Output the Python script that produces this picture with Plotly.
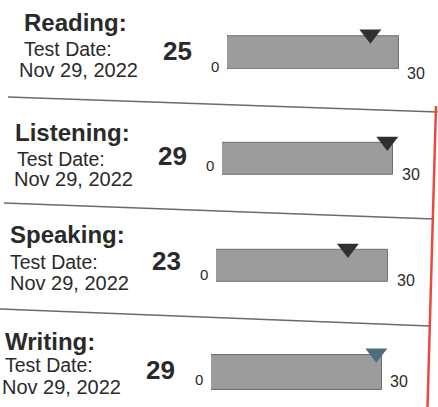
import plotly.graph_objects as go

# ---- data ----
sections = ["Reading:", "Listening:", "Speaking:", "Writing:"]
scores = [25, 29, 23, 29]
test_dates = ["Nov 29, 2022", "Nov 29, 2022", "Nov 29, 2022", "Nov 29, 2022"]
scale_min = 0
scale_max = 30
tick_labels = ["0", "30"]

# ---- layout constants (pixels) ----
W, H = 438, 407
FONT = "Liberation Sans, Arial, sans-serif"
TXT = "#2a2a2a"

# per-row bar box: x0, x1, ytop, ybottom
bar_box = [(227, 399, 36, 69), (222, 393, 143, 175), (216, 388, 250, 282), (211, 382, 355, 390)]
EXTRA = 0.6  # extra y range above the bar (in bar-height units) to hold the marker
MARK_Y = 0.55
# per-row text anchors
title_pos = [(22, 24), (13, 133), (8, 235), (3, 342)]
testdate_pos = [(22, 50), (15, 160), (8, 263), (3, 366)]
date_pos = [(17, 71), (12, 180), (8, 284), (0, 388)]
score_pos = [(177, 52), (172, 157), (166, 262), (160, 371)]
zero_y = [67, 166, 275, 380]
thirty_pos = [(405, 74), (400, 175), (395, 281), (388, 382)]
tri_colors = ["#2e3134", "#2e3134", "#2e3134", "#4e6d7a"]
separators = [((8, 97), (438, 112)), ((4, 203), (434, 219)), ((0, 309), (430, 326))]


def px(x):
    return x / W


def py(y):
    return 1 - y / H


fig = go.Figure()
layout = dict(
    width=W, height=H, margin=dict(l=0, r=0, t=0, b=0),
    paper_bgcolor="white", plot_bgcolor="rgba(0,0,0,0)", showlegend=False,
    bargap=0,
)
annotations = []
shapes = []

for i, name in enumerate(sections):
    n = "" if i == 0 else str(i + 1)
    xa, ya = "x" + n, "y" + n
    x0, x1, yt, yb = bar_box[i]
    hgt = yb - yt
    layout["xaxis" + n] = dict(domain=[px(x0), px(x1)], range=[scale_min, scale_max],
                               visible=False, fixedrange=True, anchor=ya)
    layout["yaxis" + n] = dict(domain=[py(yb), py(yt - EXTRA * hgt)], range=[-0.5, 0.5 + EXTRA],
                               visible=False, fixedrange=True, anchor=xa)
    fig.add_trace(go.Bar(
        x=[scale_max - scale_min], base=[scale_min], y=[0], orientation="h", width=1,
        marker=dict(color="#9c9c9c", line=dict(color="#6f6f6f", width=1)),
        xaxis=xa, yaxis=ya, hoverinfo="skip",
    ))
    fig.add_trace(go.Scatter(
        x=[scores[i]], y=[MARK_Y], mode="markers", cliponaxis=False,
        marker=dict(symbol="triangle-down", size=19, color=tri_colors[i]),
        xaxis=xa, yaxis=ya, hoverinfo="skip",
    ))
    # texts
    annotations.append(dict(text=name, x=px(title_pos[i][0]), y=py(title_pos[i][1] - 1),
                            xref="paper", yref="paper", xanchor="left", yanchor="middle",
                            showarrow=False, font=dict(family=FONT, size=24, color=TXT,
                                                       weight="bold")))
    annotations.append(dict(text="Test Date:", x=px(testdate_pos[i][0]), y=py(testdate_pos[i][1] - 1),
                            xref="paper", yref="paper", xanchor="left", yanchor="middle",
                            showarrow=False, font=dict(family=FONT, size=19.5, color=TXT)))
    annotations.append(dict(text=test_dates[i], x=px(date_pos[i][0]), y=py(date_pos[i][1] - 1),
                            xref="paper", yref="paper", xanchor="left", yanchor="middle",
                            showarrow=False, font=dict(family=FONT, size=20, color=TXT)))
    annotations.append(dict(text=str(scores[i]), x=px(score_pos[i][0]), y=py(score_pos[i][1] - 1),
                            xref="paper", yref="paper", xanchor="center", yanchor="middle",
                            showarrow=False, font=dict(family=FONT, size=26, color=TXT,
                                                       weight="bold")))
    annotations.append(dict(text=tick_labels[0], x=scale_min, xref=xa, xanchor="right", xshift=-6,
                            y=py(zero_y[i] - 1), yref="paper", yanchor="middle",
                            showarrow=False, font=dict(family=FONT, size=15, color=TXT)))
    annotations.append(dict(text=tick_labels[1], x=px(thirty_pos[i][0]), xref="paper", xanchor="left",
                            y=py(thirty_pos[i][1] - 1), yref="paper", yanchor="middle",
                            showarrow=False, font=dict(family=FONT, size=16, color=TXT)))

for (a, b) in separators:
    shapes.append(dict(type="line", xref="paper", yref="paper",
                       x0=px(a[0]), y0=py(a[1]), x1=px(b[0]), y1=py(b[1]),
                       line=dict(color="#6a6a6a", width=1.6)))
# red edge line
shapes.append(dict(type="line", xref="paper", yref="paper",
                   x0=px(436), y0=py(106), x1=px(427.5), y1=py(407),
                   line=dict(color="#ea4a3d", width=2.5)))

layout["annotations"] = annotations
layout["shapes"] = shapes
fig.update_layout(**layout)
fig.write_html("out.html", config={"displayModeBar": False},
               post_script="document.body.style.margin='0';document.body.style.overflow='hidden';")
